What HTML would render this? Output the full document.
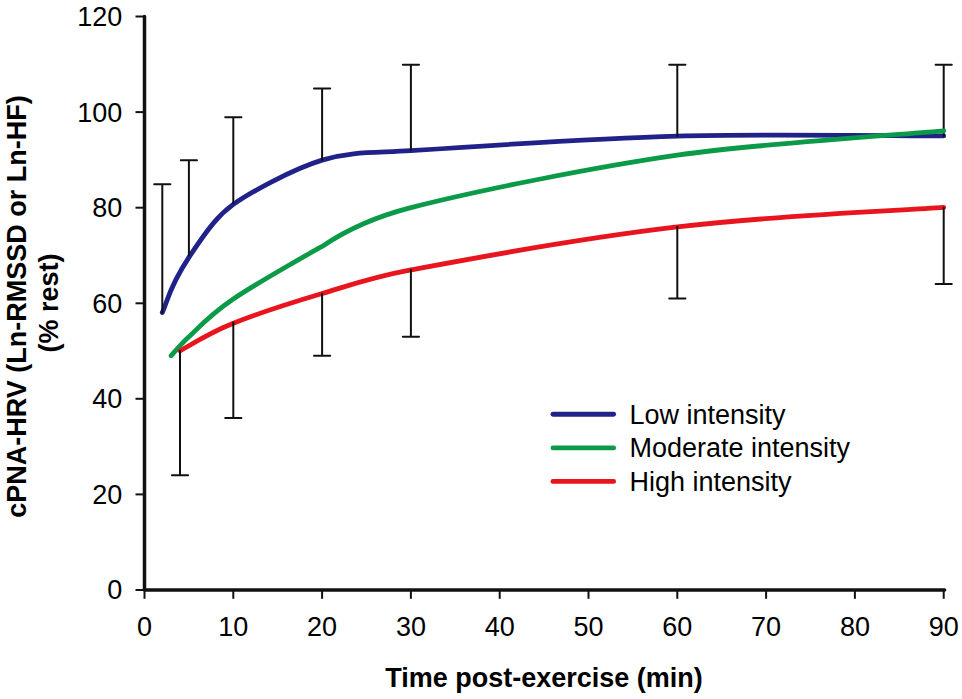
<!DOCTYPE html>
<html><head><meta charset="utf-8"><style>
html,body{margin:0;padding:0;background:#fff;}
body{width:962px;height:699px;overflow:hidden;}
svg{display:block;}
.t{font-family:"Liberation Sans",sans-serif;font-size:27px;fill:#000;}
.b{font-family:"Liberation Sans",sans-serif;font-size:27px;font-weight:bold;fill:#000;}
</style></head><body>
<svg width="962" height="699" viewBox="0 0 962 699">
<rect width="962" height="699" fill="#fff"/>
<path d="M144.5,16.6 V590.0 H944.6" fill="none" stroke="#111" stroke-width="3.5" stroke-linejoin="round" stroke-linecap="round"/>
<line x1="135.5" y1="590.0" x2="144.5" y2="590.0" stroke="#111" stroke-width="2"/>
<text x="122.3" y="599.4" text-anchor="end" class="t">0</text>
<line x1="135.5" y1="494.4" x2="144.5" y2="494.4" stroke="#111" stroke-width="2"/>
<text x="122.3" y="503.8" text-anchor="end" class="t">20</text>
<line x1="135.5" y1="398.8" x2="144.5" y2="398.8" stroke="#111" stroke-width="2"/>
<text x="122.3" y="408.2" text-anchor="end" class="t">40</text>
<line x1="135.5" y1="303.3" x2="144.5" y2="303.3" stroke="#111" stroke-width="2"/>
<text x="122.3" y="312.7" text-anchor="end" class="t">60</text>
<line x1="135.5" y1="207.7" x2="144.5" y2="207.7" stroke="#111" stroke-width="2"/>
<text x="122.3" y="217.1" text-anchor="end" class="t">80</text>
<line x1="135.5" y1="112.1" x2="144.5" y2="112.1" stroke="#111" stroke-width="2"/>
<text x="122.3" y="121.5" text-anchor="end" class="t">100</text>
<line x1="135.5" y1="16.5" x2="144.5" y2="16.5" stroke="#111" stroke-width="2"/>
<text x="122.3" y="25.9" text-anchor="end" class="t">120</text>
<line x1="144.5" y1="590.0" x2="144.5" y2="598.8" stroke="#111" stroke-width="2"/>
<text x="144.5" y="636" text-anchor="middle" class="t">0</text>
<line x1="233.3" y1="590.0" x2="233.3" y2="598.8" stroke="#111" stroke-width="2"/>
<text x="233.3" y="636" text-anchor="middle" class="t">10</text>
<line x1="322.1" y1="590.0" x2="322.1" y2="598.8" stroke="#111" stroke-width="2"/>
<text x="322.1" y="636" text-anchor="middle" class="t">20</text>
<line x1="410.9" y1="590.0" x2="410.9" y2="598.8" stroke="#111" stroke-width="2"/>
<text x="410.9" y="636" text-anchor="middle" class="t">30</text>
<line x1="499.7" y1="590.0" x2="499.7" y2="598.8" stroke="#111" stroke-width="2"/>
<text x="499.7" y="636" text-anchor="middle" class="t">40</text>
<line x1="588.5" y1="590.0" x2="588.5" y2="598.8" stroke="#111" stroke-width="2"/>
<text x="588.5" y="636" text-anchor="middle" class="t">50</text>
<line x1="677.3" y1="590.0" x2="677.3" y2="598.8" stroke="#111" stroke-width="2"/>
<text x="677.3" y="636" text-anchor="middle" class="t">60</text>
<line x1="766.1" y1="590.0" x2="766.1" y2="598.8" stroke="#111" stroke-width="2"/>
<text x="766.1" y="636" text-anchor="middle" class="t">70</text>
<line x1="854.9" y1="590.0" x2="854.9" y2="598.8" stroke="#111" stroke-width="2"/>
<text x="854.9" y="636" text-anchor="middle" class="t">80</text>
<line x1="943.7" y1="590.0" x2="943.7" y2="598.8" stroke="#111" stroke-width="2"/>
<text x="943.7" y="636" text-anchor="middle" class="t">90</text>
<path d="M162.26,312.50 C167.92,300.79 168.06,289.06 188.90,257.35 C209.74,225.65 219.26,214.66 233.30,204.41 C247.34,194.17 291.97,169.21 322.10,160.10 C352.23,150.99 376.44,153.03 410.90,150.70 C456.69,147.61 594.50,138.42 677.30,136.12 C760.10,133.82 900.56,135.93 943.70,135.90" fill="none" stroke="#20228a" stroke-width="4.8" stroke-linecap="round" stroke-linejoin="round"/>
<path d="M162.3,312.8 V184.2 M154.2,184.2 H170.4" fill="none" stroke="#111" stroke-width="2" stroke-linecap="round"/>
<path d="M188.9,255.5 V160.3 M180.8,160.3 H197.0" fill="none" stroke="#111" stroke-width="2" stroke-linecap="round"/>
<path d="M233.3,202.9 V117.3 M225.2,117.3 H241.4" fill="none" stroke="#111" stroke-width="2" stroke-linecap="round"/>
<path d="M322.1,159.9 V88.6 M314.0,88.6 H330.2" fill="none" stroke="#111" stroke-width="2" stroke-linecap="round"/>
<path d="M410.9,150.3 V64.7 M402.8,64.7 H419.0" fill="none" stroke="#111" stroke-width="2" stroke-linecap="round"/>
<path d="M677.3,136.0 V64.7 M669.2,64.7 H685.4" fill="none" stroke="#111" stroke-width="2" stroke-linecap="round"/>
<path d="M943.7,136.0 V64.7 M935.6,64.7 H951.8" fill="none" stroke="#111" stroke-width="2" stroke-linecap="round"/>
<path d="M171.14,355.70 C174.12,352.53 181.16,343.87 188.90,336.81 C197.27,329.18 208.83,315.64 233.30,299.03 C257.77,282.42 320.62,247.16 322.10,246.40 C323.58,245.63 355.76,221.79 410.90,207.63 C480.47,189.77 598.10,166.60 677.30,155.17 C756.50,143.75 906.94,134.13 943.70,130.77" fill="none" stroke="#0a9a48" stroke-width="4.8" stroke-linecap="round" stroke-linejoin="round"/>
<path d="M180.02,350.90 C187.45,347.05 206.46,334.12 233.30,323.29 C260.14,312.45 292.61,302.43 322.10,293.57 C351.59,284.71 371.36,277.33 410.90,269.92 C462.73,260.20 571.33,239.39 677.30,226.97 C783.27,214.55 898.03,210.80 943.70,207.46" fill="none" stroke="#e8141e" stroke-width="4.8" stroke-linecap="round" stroke-linejoin="round"/>
<path d="M180.0,351.1 V475.3 M171.9,475.3 H188.1" fill="none" stroke="#111" stroke-width="2" stroke-linecap="round"/>
<path d="M233.3,322.4 V418.0 M225.2,418.0 H241.4" fill="none" stroke="#111" stroke-width="2" stroke-linecap="round"/>
<path d="M322.1,293.7 V355.8 M314.0,355.8 H330.2" fill="none" stroke="#111" stroke-width="2" stroke-linecap="round"/>
<path d="M410.9,269.8 V336.7 M402.8,336.7 H419.0" fill="none" stroke="#111" stroke-width="2" stroke-linecap="round"/>
<path d="M677.3,226.8 V298.5 M669.2,298.5 H685.4" fill="none" stroke="#111" stroke-width="2" stroke-linecap="round"/>
<path d="M943.7,207.7 V284.1 M935.6,284.1 H951.8" fill="none" stroke="#111" stroke-width="2" stroke-linecap="round"/>
<line x1="553" y1="414.3" x2="613.6" y2="414.3" stroke="#20228a" stroke-width="4.9" stroke-linecap="round"/>
<text x="629.5" y="423.5" class="t">Low intensity</text>
<line x1="553" y1="447.9" x2="613.6" y2="447.9" stroke="#0a9a48" stroke-width="4.9" stroke-linecap="round"/>
<text x="629.5" y="457.1" class="t">Moderate intensity</text>
<line x1="553" y1="481.4" x2="613.6" y2="481.4" stroke="#e8141e" stroke-width="4.9" stroke-linecap="round"/>
<text x="629.5" y="490.6" class="t">High intensity</text>
<text x="544" y="687.2" text-anchor="middle" class="b">Time post-exercise (min)</text>
<text transform="translate(26,306.5) rotate(-90)" text-anchor="middle" class="b">cPNA-HRV (Ln-RMSSD or Ln-HF)</text>
<text transform="translate(58,303) rotate(-90)" text-anchor="middle" class="b">(% rest)</text>
</svg></body></html>
